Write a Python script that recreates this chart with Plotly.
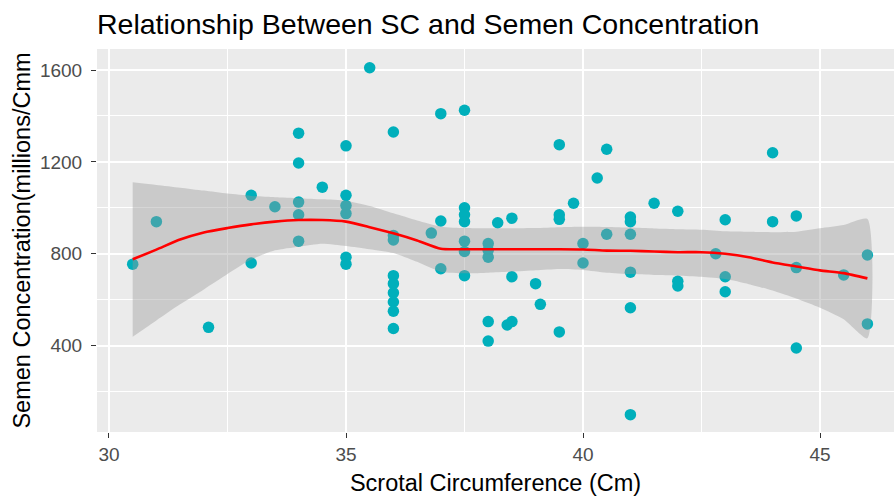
import plotly.graph_objects as go

# ---- data: scatter points ----
sc = [30.5, 31, 32.1, 33, 33, 33.5,
      34, 34, 34, 34, 34, 34.5,
      35, 35, 35, 35, 35, 35, 35.5,
      36, 36, 36, 36, 36, 36, 36, 36, 36, 36.8,
      37, 37, 37, 37.5, 37.5, 37.5, 37.5, 37.5, 37.5, 37.5,
      38, 38, 38, 38, 38, 38.2, 38.4, 38.5, 38.5, 38.5, 39, 39.1,
      39.5, 39.5, 39.5, 39.5, 39.8, 40, 40, 40.3, 40.5, 40.5,
      41, 41, 41, 41, 41, 41, 41.5, 42, 42, 42, 42.8, 43, 43, 43,
      44, 44, 44.5, 44.5, 44.5, 45.5, 46, 46]
conc = [755, 940, 480, 1055, 760, 1005,
        1325, 1195, 1025, 970, 855, 1090,
        1270, 1055, 1010, 975, 785, 755, 1610,
        1330, 880, 860, 705, 670, 630, 590, 550, 475, 890,
        1410, 943, 735, 1425, 1000, 970, 940, 855, 810, 705,
        845, 815, 785, 505, 420, 935, 490, 955, 700, 505, 670, 580,
        1275, 970, 950, 460, 1020, 845, 760, 1130, 1255, 885,
        960, 940, 885, 720, 565, 100, 1020, 985, 680, 660, 800, 948, 700, 635,
        1240, 940, 965, 740, 390, 708, 795, 495]

# ---- data: loess fit and confidence band ----
fit_x = [30.5, 31.0, 31.5, 32.0, 32.5, 33.0, 33.5, 34.0, 34.5, 35.0, 35.5, 36.0,
         36.5, 37.0, 37.5, 38.0, 38.5, 39.0, 39.5, 40.0, 40.5, 41.0, 41.5, 42.0,
         42.5, 43.0, 43.5, 44.0, 44.5, 45.0, 45.5, 46.0]
fit_y = [776, 818, 862, 893, 912, 928, 940, 947, 947, 940, 916, 889,
         858, 822, 820, 820, 820, 820, 820, 819, 814, 813, 810, 807,
         807, 800, 785, 762, 745, 728, 716, 693]
fit_hi = [1111, 1100, 1088, 1075, 1062, 1052, 1046, 1042, 1037, 1031, 1008, 976,
          945, 918, 912, 911, 911, 912, 916, 918, 917, 914, 910, 907,
          905, 898, 896, 894, 896, 911, 925, 951]
fit_lo = [439, 510, 580, 645, 712, 775, 815, 831, 844, 834, 820, 803,
          765, 722, 715, 718, 722, 728, 734, 730, 718, 712, 708, 705,
          700, 690, 668, 640, 605, 565, 515, 432]

TEAL = "#00AFBB"
FONT = "Liberation Sans, Arial, sans-serif"

fig = go.Figure()

fig.add_trace(go.Scatter(
    x=sc, y=conc, mode="markers",
    marker=dict(color=TEAL, size=11.5, line=dict(width=0)),
    showlegend=False, hoverinfo="x+y"))

fig.add_trace(go.Scatter(
    x=fit_x + fit_x[::-1], y=fit_hi + fit_lo[::-1],
    fill="toself", fillcolor="rgba(153,153,153,0.4)",
    line=dict(width=0, shape="spline", smoothing=0.6),
    mode="lines", showlegend=False, hoverinfo="skip"))

fig.add_trace(go.Scatter(
    x=fit_x, y=fit_y, mode="lines",
    line=dict(color="#FF0000", width=2.6, shape="spline", smoothing=0.6),
    showlegend=False))

fig.update_layout(
    width=894, height=500,
    margin=dict(l=97, r=0, t=49, b=68, autoexpand=False),
    paper_bgcolor="white", plot_bgcolor="#EBEBEB",
    font=dict(family=FONT, color="#4D4D4D"),
    title=dict(text="Relationship Between SC and Semen Concentration",
               font=dict(family=FONT, size=28.5, color="#000000"),
               x=97/894, xanchor="left", xref="container",
               y=1-24/500, yanchor="middle", yref="container"),
)

fig.update_xaxes(
    range=[29.747, 46.561], tickmode="array",
    tickvals=[30, 35, 40, 45], ticktext=["30", "35", "40", "45"],
    showgrid=True, gridcolor="white", gridwidth=1.6,
    minor=dict(showgrid=True, gridcolor="white", gridwidth=0.8,
               tickmode="array", tickvals=[32.5, 37.5, 42.5], ticks=""),
    zeroline=False, showline=False,
    ticks="outside", ticklen=5, tickwidth=1.2, tickcolor="#333333",
    tickfont=dict(size=19, color="#4D4D4D"),
    title=dict(text="Scrotal Circumference (Cm)",
               font=dict(size=23.5, color="#000000"), standoff=10),
)

fig.update_yaxes(
    range=[24.4, 1691.4], tickmode="array",
    tickvals=[400, 800, 1200, 1600], ticktext=["400", "800", "1200", "1600"],
    showgrid=True, gridcolor="white", gridwidth=1.6,
    minor=dict(showgrid=True, gridcolor="white", gridwidth=0.8,
               tickmode="array", tickvals=[200, 600, 1000, 1400], ticks=""),
    zeroline=False, showline=False,
    ticks="outside", ticklen=5, tickwidth=1.2, tickcolor="#333333",
    tickfont=dict(size=19, color="#4D4D4D"), ticklabelstandoff=5,
    title=dict(text="Semen Concentration(millions/Cmm",
               font=dict(size=23.5, color="#000000"), standoff=2),
)

fig.write_html(
    "out.html",
    config={"displayModeBar": False},
    post_script="document.body.style.margin='0';document.body.style.padding='0';document.body.style.overflow='hidden';",
)
